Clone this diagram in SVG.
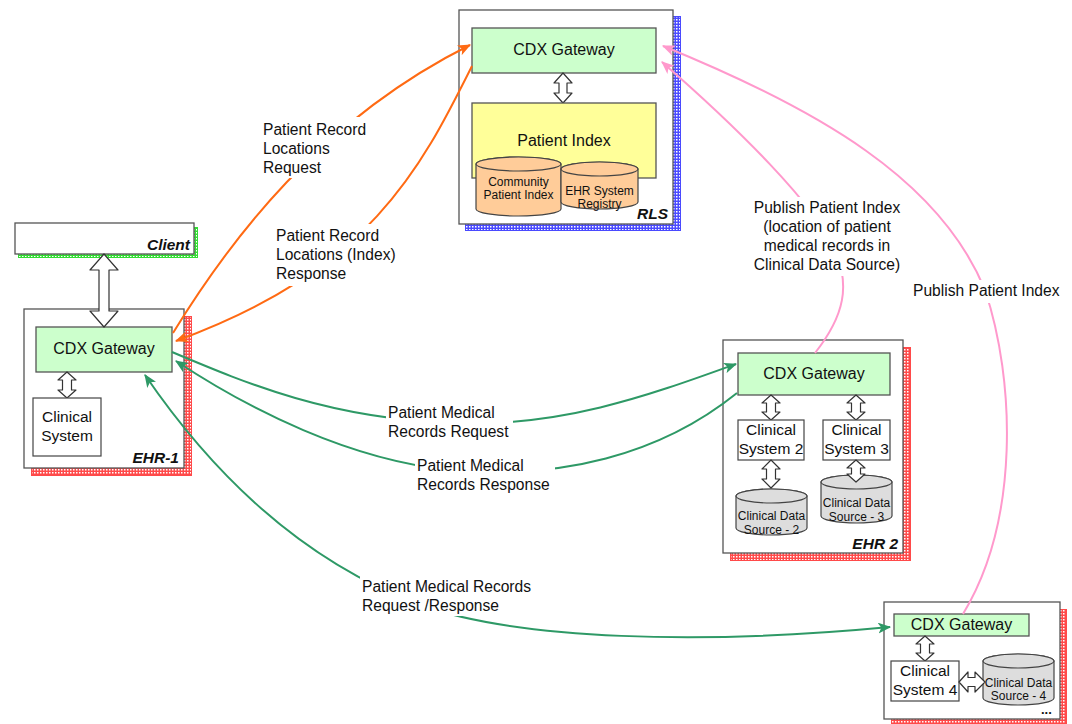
<svg xmlns="http://www.w3.org/2000/svg" width="1072" height="724" viewBox="0 0 1072 724">
  <defs>
    <style>
      text { font-family: "Liberation Sans", Arial, sans-serif; fill: #111; }
      .box { fill: #fff; stroke: #555; stroke-width: 1.3; }
      .gw { fill: #CCFFCC; stroke: #555; stroke-width: 1.3; }
      .pidx { fill: #FFFF99; stroke: #555; stroke-width: 1.3; }
      .sys { fill: #fff; stroke: #444; stroke-width: 1.2; }
      .cylP { fill: #FFCC99; stroke: #444; stroke-width: 1.2; }
      .cylG { fill: #DDDDDD; stroke: #444; stroke-width: 1.2; }
      .dbl { fill: #fff; stroke: #333; stroke-width: 1.2; stroke-linejoin: round; }
      .gwt { font-size: 16px; text-anchor: middle; }
      .st { font-size: 15.5px; text-anchor: middle; }
      .ct { font-size: 12px; text-anchor: middle; }
      .tag { font-size: 15.5px; font-weight: bold; font-style: italic; text-anchor: end; }
      .lbl { font-size: 15.6px; }
      .lblc { font-size: 15.6px; text-anchor: middle; }
      .bg { fill: #fff; }
      .orange { fill: none; stroke: #FF6A13; stroke-width: 2; }
      .green { fill: none; stroke: #2E9966; stroke-width: 2; }
      .pink { fill: none; stroke: #FF99CC; stroke-width: 2; }
    </style>
    <!-- dotted shadow fills -->
    <pattern id="dotsRed" width="3" height="3" patternUnits="userSpaceOnUse">
      <rect width="3" height="3" fill="#FF4A4A"/><rect x="1" y="1" width="1.5" height="1.5" fill="#fff"/>
    </pattern>
    <pattern id="dotsBlue" width="3" height="3" patternUnits="userSpaceOnUse">
      <rect width="3" height="3" fill="#4A4AFF"/><rect x="1" y="1" width="1.5" height="1.5" fill="#fff"/>
    </pattern>
    <pattern id="dotsGreen" width="3" height="3" patternUnits="userSpaceOnUse">
      <rect width="3" height="3" fill="#33DD33"/><rect x="1" y="1" width="1.5" height="1.5" fill="#fff"/>
    </pattern>
    <marker id="arrO" viewBox="0 0 12 10" refX="11" refY="5" markerWidth="13" markerHeight="11" markerUnits="userSpaceOnUse" orient="auto-start-reverse">
      <path d="M0,0 L12,5 L0,10 L3,5 z" fill="#FF6A13"/>
    </marker>
    <marker id="arrG" viewBox="0 0 12 10" refX="11" refY="5" markerWidth="13" markerHeight="11" markerUnits="userSpaceOnUse" orient="auto-start-reverse">
      <path d="M0,0 L12,5 L0,10 L3,5 z" fill="#2E9966"/>
    </marker>
    <marker id="arrP" viewBox="0 0 12 10" refX="11" refY="5" markerWidth="13" markerHeight="11" markerUnits="userSpaceOnUse" orient="auto-start-reverse">
      <path d="M0,0 L12,5 L0,10 L3,5 z" fill="#FF99CC"/>
    </marker>
  </defs>

  <rect width="1072" height="724" fill="#fff"/>

  <!-- RLS -->
  <g id="rls">
    <rect x="465.5" y="16.5" width="215" height="214" fill="url(#dotsBlue)" stroke="#4A4AFF" stroke-width="1"/>
    <rect class="box" x="459" y="10" width="214" height="214"/>
    <rect class="gw" x="472" y="28" width="184" height="45"/>
    <text class="gwt" x="564" y="55">CDX Gateway</text>
    <path class="dbl" d="M563,73 L572,83 L567,83 L567,93 L572,93 L563,103 L554,93 L559,93 L559,83 L554,83 Z"/>
    <rect class="pidx" x="472" y="103" width="184" height="75"/>
    <text class="gwt" x="564" y="146">Patient Index</text>
    <path class="cylP" d="M476,164 L476,209 A42.5,7 0 0 0 561,209 L561,164 A42.5,7 0 0 0 476,164 Z"/>
    <ellipse class="cylP" cx="518.5" cy="164" rx="42.5" ry="7"/>
    <text class="ct" x="518.5" y="186">Community</text>
    <text class="ct" x="518.5" y="199">Patient Index</text>
    <path class="cylP" d="M561,169 L561,202 A38.5,7 0 0 0 638,202 L638,169 A38.5,7 0 0 0 561,169 Z"/>
    <ellipse class="cylP" cx="599.5" cy="169" rx="38.5" ry="7"/>
    <text class="ct" x="599.5" y="195">EHR System</text>
    <text class="ct" x="599.5" y="208">Registry</text>
    <text class="tag" x="668" y="219">RLS</text>
  </g>

  <!-- Client -->
  <g id="client">
    <rect x="18.5" y="227.5" width="179" height="30" fill="url(#dotsGreen)" stroke="#33DD33" stroke-width="1"/>
    <rect class="box" x="15" y="223" width="179" height="31"/>
    <text class="tag" x="190" y="250">Client</text>
  </g>

  <!-- EHR-1 -->
  <g id="ehr1">
    <rect x="31.5" y="316.5" width="160" height="159" fill="url(#dotsRed)" stroke="#FF4A4A" stroke-width="1"/>
    <rect class="box" x="24" y="309" width="160" height="159"/>
    <rect class="gw" x="36" y="327" width="136" height="45"/>
    <text class="gwt" x="104" y="354">CDX Gateway</text>
    <path class="dbl" d="M67,372 L76,380 L71.5,380 L71.5,390 L76,390 L67,398 L58,390 L62.5,390 L62.5,380 L58,380 Z"/>
    <rect class="sys" x="33" y="398" width="68" height="58"/>
    <text class="st" x="67" y="422">Clinical</text>
    <text class="st" x="67" y="441">System</text>
    <text class="tag" x="179" y="463">EHR-1</text>
  </g>

  <!-- Client to EHR-1 gateway link -->
  <g id="client-link">
    <path class="dbl" d="M104,254 L118,270 L109,270 L109,311 L118,311 L104,327 L90,311 L99,311 L99,270 L90,270 Z"/>
  </g>

  <!-- EHR 2 -->
  <g id="ehr2">
    <rect x="730.5" y="347.5" width="180" height="213" fill="url(#dotsRed)" stroke="#FF4A4A" stroke-width="1"/>
    <rect class="box" x="723" y="340" width="180" height="213"/>
    <rect class="gw" x="738" y="353" width="152" height="42"/>
    <text class="gwt" x="814" y="379">CDX Gateway</text>
    <path class="dbl" d="M771,395 L780,403 L775.5,403 L775.5,412 L780,412 L771,420 L762,412 L766.5,412 L766.5,403 L762,403 Z"/>
    <path class="dbl" d="M856,395 L865,403 L860.5,403 L860.5,412 L865,412 L856,420 L847,412 L851.5,412 L851.5,403 L847,403 Z"/>
    <rect class="sys" x="738" y="420" width="66" height="40"/>
    <text class="st" x="771" y="435">Clinical</text>
    <text class="st" x="771" y="454">System 2</text>
    <rect class="sys" x="823" y="420" width="67" height="40"/>
    <text class="st" x="856.5" y="435">Clinical</text>
    <text class="st" x="856.5" y="454">System 3</text>
    <path class="cylG" d="M736,496 L736,528 A35.5,7 0 0 0 807,528 L807,496 A35.5,7 0 0 0 736,496 Z"/>
    <ellipse class="cylG" cx="771.5" cy="496" rx="35.5" ry="7"/>
    <text class="ct" x="771.5" y="520">Clinical Data</text>
    <text class="ct" x="771.5" y="534">Source - 2</text>
    <path class="cylG" d="M821,482 L821,516 A35.5,7 0 0 0 892,516 L892,482 A35.5,7 0 0 0 821,482 Z"/>
    <ellipse class="cylG" cx="856.5" cy="482" rx="35.5" ry="7"/>
    <text class="ct" x="856.5" y="507">Clinical Data</text>
    <text class="ct" x="856.5" y="521">Source - 3</text>
    <path class="dbl" d="M771,460 L780,469 L775.5,469 L775.5,479 L780,479 L771,488 L762,479 L766.5,479 L766.5,469 L762,469 Z"/>
    <path class="dbl" d="M856,460 L865,468 L860.5,468 L860.5,474 L865,474 L856,482 L847,474 L851.5,474 L851.5,468 L847,468 Z"/>
    <text class="tag" x="898" y="549">EHR 2</text>
  </g>

  <!-- EHR with Clinical System 4 -->
  <g id="ehr4">
    <rect x="891.5" y="609.5" width="175" height="115" fill="url(#dotsRed)" stroke="#FF4A4A" stroke-width="1"/>
    <rect class="box" x="884" y="602" width="176" height="117"/>
    <rect class="gw" x="894" y="614" width="135" height="22"/>
    <text class="gwt" x="961.5" y="630">CDX Gateway</text>
    <path class="dbl" d="M925,636 L934,644 L929.5,644 L929.5,653 L934,653 L925,661 L916,653 L920.5,653 L920.5,644 L916,644 Z"/>
    <rect class="sys" x="891" y="661" width="68" height="40"/>
    <text class="st" x="925" y="676">Clinical</text>
    <text class="st" x="925" y="695">System 4</text>
    <path class="cylG" d="M983,661 L983,698 A35.5,7 0 0 0 1054,698 L1054,661 A35.5,7 0 0 0 983,661 Z"/>
    <ellipse class="cylG" cx="1018.5" cy="661" rx="35.5" ry="7"/>
    <text class="ct" x="1018.5" y="687">Clinical Data</text>
    <text class="ct" x="1018.5" y="700">Source - 4</text>
    <path class="dbl" d="M959,682 L968,672 L968,677.5 L975,677.5 L975,672 L985,682 L975,692 L975,686.5 L968,686.5 L968,692 Z"/>
    <text x="1041" y="714" style="font-size:13px;font-weight:bold">...</text>
  </g>

  <!-- Connectors -->
  <g id="connectors">
    <path class="orange" d="M173,333 C230,240 320,120 470,45" marker-end="url(#arrO)"/>
    <path class="orange" d="M472,66 C420,170 370,270 176,341" marker-end="url(#arrO)"/>
    <path class="pink" d="M815,353 C845,315 850,285 835,250 C815,205 740,130 662,62" marker-end="url(#arrP)"/>
    <path class="pink" d="M963,614 C1020,520 1015,380 985,290 C940,180 820,110 663,46" marker-end="url(#arrP)"/>
    <path class="green" d="M172,352 C250,385 330,418 450,423 C560,428 650,395 736,364" marker-end="url(#arrG)"/>
    <path class="green" d="M737,393 C660,455 560,480 450,470 C350,460 250,410 176,361" marker-end="url(#arrG)"/>
    <path class="green" d="M145,375 C210,470 300,560 420,605 C520,640 700,645 890,627" marker-start="url(#arrG)" marker-end="url(#arrG)"/>
  </g>

  <!-- Connector labels -->
  <g id="labels">
    <rect class="bg" x="260" y="117" width="112" height="61"/>
    <text class="lbl" x="263" y="134.5">Patient Record</text>
    <text class="lbl" x="263" y="153.5">Locations</text>
    <text class="lbl" x="263" y="172.5">Request</text>

    <rect class="bg" x="274" y="224" width="126" height="62"/>
    <text class="lbl" x="276" y="240.5">Patient Record</text>
    <text class="lbl" x="276" y="259.5">Locations (Index)</text>
    <text class="lbl" x="276" y="278.5">Response</text>

    <rect class="bg" x="750" y="197" width="155" height="79"/>
    <text class="lblc" x="827" y="212.5">Publish Patient Index</text>
    <text class="lblc" x="827" y="231.5">(location of patient</text>
    <text class="lblc" x="827" y="250.5">medical records in</text>
    <text class="lblc" x="827" y="269.5">Clinical Data Source)</text>

    <rect class="bg" x="910" y="280" width="155" height="23"/>
    <text class="lbl" x="913" y="296">Publish Patient Index</text>

    <rect class="bg" x="386" y="403" width="127" height="39"/>
    <text class="lbl" x="388" y="418">Patient Medical</text>
    <text class="lbl" x="388" y="437">Records Request</text>

    <rect class="bg" x="415" y="456" width="140" height="38"/>
    <text class="lbl" x="417" y="471">Patient Medical</text>
    <text class="lbl" x="417" y="490">Records Response</text>

    <rect class="bg" x="360" y="576" width="177" height="40"/>
    <text class="lbl" x="362" y="592">Patient Medical Records</text>
    <text class="lbl" x="362" y="611">Request /Response</text>
  </g>
</svg>
